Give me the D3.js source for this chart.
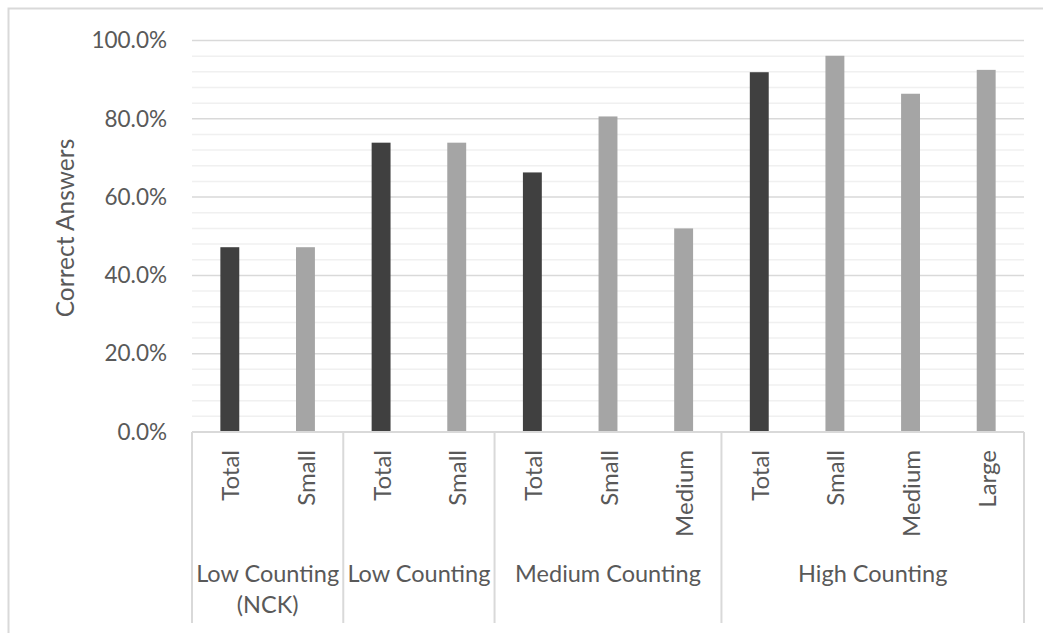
<!DOCTYPE html>
<html>
<head>
<meta charset="utf-8">
<script src="https://cdn.jsdelivr.net/npm/d3@7"></script>
<style>
  html, body { margin: 0; padding: 0; background: #fff; }
  svg { display: block; }
  text { font-family: Lato, "Noto Sans", sans-serif; fill: #595959; }
</style>
</head>
<body>
<svg id="chart" width="1043" height="633"></svg>
<script>
// Share of correct answers per counting level and object size
const groups = ["Low Counting (NCK)", "Low Counting", "Medium Counting", "High Counting"];
const categories = ["Total", "Small", "Total", "Small", "Total", "Small", "Medium", "Total", "Small", "Medium", "Large"];
const categoryGroup = [0, 0, 1, 1, 2, 2, 2, 3, 3, 3, 3];
const values = [0.472, 0.472, 0.739, 0.739, 0.663, 0.806, 0.520, 0.919, 0.961, 0.864, 0.925];
const yTicks = [0, 0.2, 0.4, 0.6, 0.8, 1.0];
const yTitle = "Correct Answers";

const svg = d3.select("#chart");
const plot = { left: 192, right: 1024, top: 40.5, bottom: 432 };
const axisBottom = 623;

const dark = "#404040", light = "#a5a5a5";
const gridMajor = "#d9d9d9", gridMinor = "#f0f0f0";

// Outer chart frame (runs past the right and bottom edges)
svg.append("rect")
  .attr("x", 8.5).attr("y", 8.5)
  .attr("width", 1200).attr("height", 800)
  .attr("fill", "none").attr("stroke", gridMajor).attr("stroke-width", 2);

const idx = d3.range(categories.length);
const x = d3.scaleBand().domain(idx).range([plot.left, plot.right])
  .paddingInner(0.75).paddingOuter(0.375);
const step = x.step();
const y = d3.scaleLinear().domain([0, 1]).range([plot.bottom, plot.top]);

// Minor gridlines every 4%
const minor = d3.range(0, 1.0001, 0.04).filter(v => Math.abs(Math.round(v * 5) - v * 5) > 1e-6);
svg.append("g").selectAll("line").data(minor).join("line")
  .attr("x1", plot.left).attr("x2", plot.right)
  .attr("y1", d => y(d)).attr("y2", d => y(d))
  .attr("stroke", gridMinor).attr("stroke-width", 1.5);

// Major gridlines
svg.append("g").selectAll("line").data(yTicks.filter(d => d > 0)).join("line")
  .attr("x1", plot.left).attr("x2", plot.right)
  .attr("y1", d => y(d)).attr("y2", d => y(d))
  .attr("stroke", gridMajor).attr("stroke-width", 1.5);

// Y axis labels
const yAxis = d3.axisLeft(y).tickValues(yTicks).tickFormat(d3.format(".1%")).tickSize(0).tickPadding(25);
const gy = svg.append("g").attr("transform", `translate(${plot.left},0)`).call(yAxis);
gy.select(".domain").remove();
gy.selectAll("text").attr("font-size", 22.5).attr("fill", "#595959")
  .style("font-family", "Lato, 'Noto Sans', sans-serif");

// Y axis title
svg.append("text")
  .attr("transform", `translate(64,228) rotate(-90)`)
  .attr("text-anchor", "middle").attr("dominant-baseline", "central")
  .attr("font-size", 24.5).text(yTitle);

// Bars
svg.append("g").selectAll("rect").data(idx).join("rect")
  .attr("x", i => x(i)).attr("width", x.bandwidth())
  .attr("y", i => y(values[i])).attr("height", i => y(0) - y(values[i]))
  .attr("fill", i => categories[i] === "Total" ? dark : light);

// Category axis baseline
svg.append("line")
  .attr("x1", plot.left).attr("x2", plot.right)
  .attr("y1", plot.bottom).attr("y2", plot.bottom)
  .attr("stroke", gridMajor).attr("stroke-width", 2);

// Group boundaries
const groupStart = groups.map((g, gi) => categoryGroup.indexOf(gi));
const groupEnd = groups.map((g, gi) => categoryGroup.lastIndexOf(gi));
const bounds = groupStart.map(s => plot.left + s * step).concat([plot.right]);
svg.append("g").selectAll("line").data(bounds).join("line")
  .attr("x1", d => d).attr("x2", d => d)
  .attr("y1", plot.bottom).attr("y2", axisBottom)
  .attr("stroke", gridMajor).attr("stroke-width", 2);

// Category labels, rotated
svg.append("g").selectAll("text").data(idx).join("text")
  .attr("transform", i => `translate(${x(i) + x.bandwidth() / 2},450) rotate(-90)`)
  .attr("text-anchor", "end").attr("dominant-baseline", "central")
  .attr("font-size", 24).text(i => categories[i]);

// Group labels, wrapped to the group width
groups.forEach((g, gi) => {
  const x0 = plot.left + groupStart[gi] * step;
  const x1 = plot.left + (groupEnd[gi] + 1) * step;
  const cx = (x0 + x1) / 2;
  const t = svg.append("text").attr("x", cx).attr("y", 582)
    .attr("text-anchor", "middle").attr("font-size", 23.5);
  const words = g.split(" ");
  let line = [];
  let tspan = t.append("tspan").attr("x", cx).attr("dy", 0);
  words.forEach(w => {
    line.push(w);
    tspan.text(line.join(" "));
    if (tspan.node().getComputedTextLength() > (x1 - x0) - 4 && line.length > 1) {
      line.pop();
      tspan.text(line.join(" "));
      line = [w];
      tspan = t.append("tspan").attr("x", cx).attr("dy", 31).text(w);
    }
  });
});
</script>
</body>
</html>
